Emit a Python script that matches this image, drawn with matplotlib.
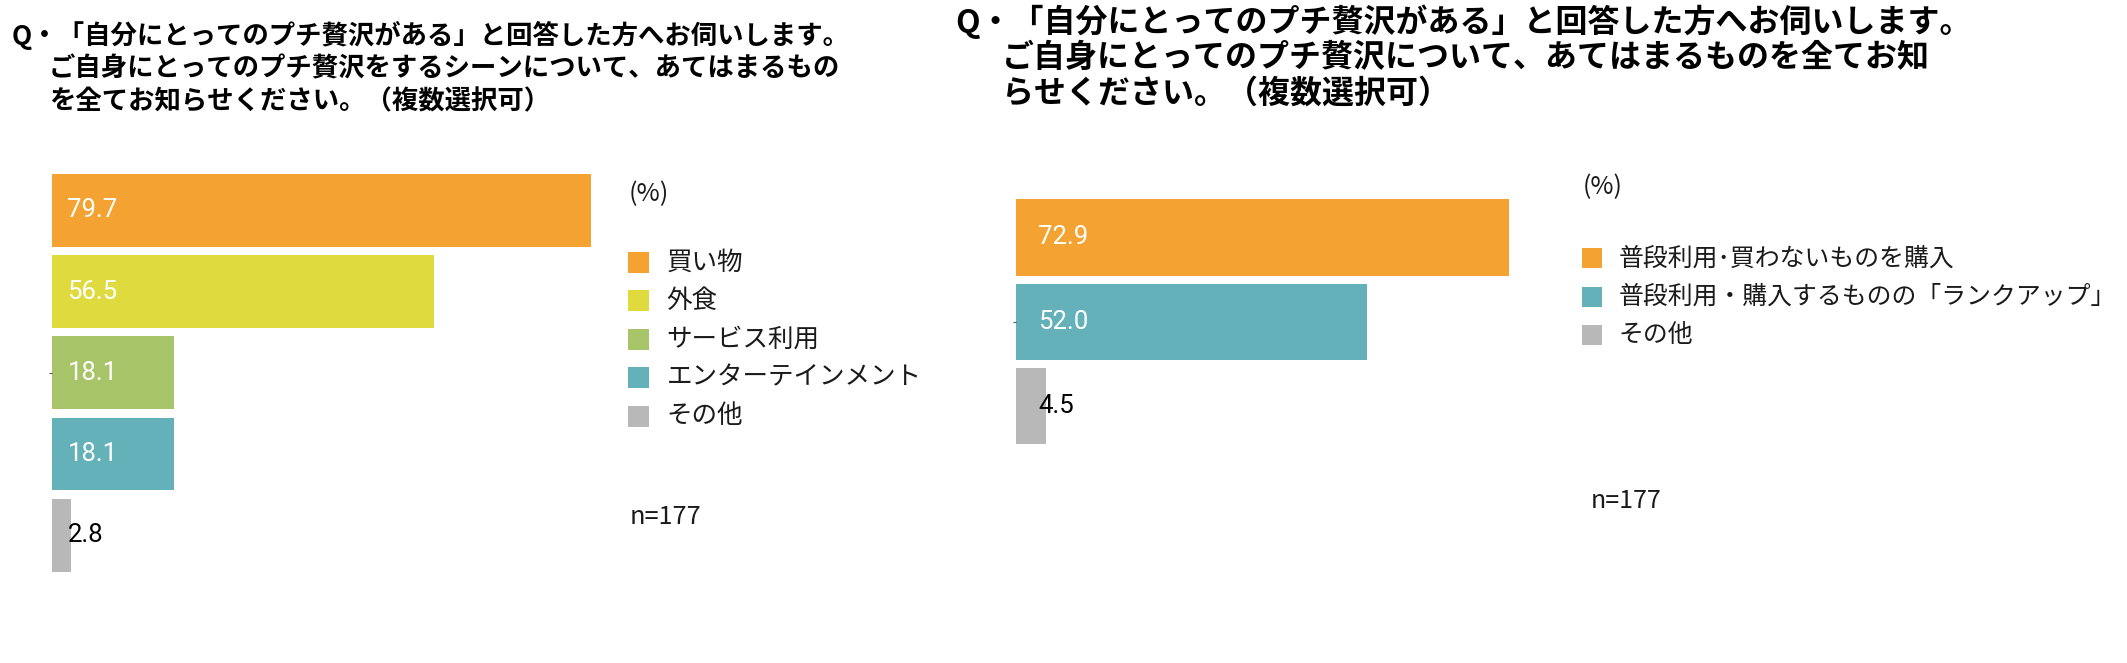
import matplotlib
matplotlib.use("Agg")
import matplotlib.pyplot as plt
from matplotlib.patches import Rectangle

# ---------------- data ----------------
left_categories = ['買い物', '外食', 'サービス利用', 'エンターテインメント', 'その他']
left_values = [79.7, 56.5, 18.1, 18.1, 2.8]
left_colors = ['#F4A232', '#DFDB3F', '#A8C468', '#64B1BA', '#B8B8B8']

right_categories = ['普段利用･買わないものを購入', '普段利用・購入するものの「ランクアップ」', 'その他']
right_values = [72.9, 52.0, 4.5]
right_colors = ['#F4A232', '#64B1BA', '#B8B8B8']

left_title = ['Q・「自分にとってのプチ贅沢がある」と回答した方へお伺いします。',
              'ご自身にとってのプチ贅沢をするシーンについて、あてはまるもの',
              'を全てお知らせください。（複数選択可）']
right_title = ['Q・「自分にとってのプチ贅沢がある」と回答した方へお伺いします。',
               'ご自身にとってのプチ贅沢について、あてはまるものを全てお知',
               'らせください。（複数選択可）']
unit_label = '(%)'
n_label = 'n=177'

# ---------------- layout ----------------
W, H = 2127, 663
DPI = 100
JP = ['Noto Sans CJK JP', 'DejaVu Sans']
NUM = ['Roboto', 'DejaVu Sans']
PX_PER_UNIT = 6.757

fig = plt.figure(figsize=(W / DPI, H / DPI), dpi=DPI)
fig.patch.set_facecolor('white')


def add_axes_px(x0, y0, x1, y1):
    return fig.add_axes([x0 / W, 1 - y1 / H, (x1 - x0) / W, (y1 - y0) / H])


def ftext(x, y, s, **kw):
    fig.text(x / W, 1 - y / H, s, **kw)


def draw_bars(ax, values, colors, height, label_dx_px):
    n = len(values)
    ypos = list(range(n))
    ax.barh(ypos, values, height=height, color=colors, edgecolor='none')
    ax.set_xlim(0, 80)
    ax.set_ylim(n - 0.5, -0.5)
    for s in ax.spines.values():
        s.set_visible(False)
    ax.set_xticks([])
    mid = (n - 1) / 2
    ax.set_yticks([mid])
    ax.set_yticklabels([''])
    ax.tick_params(axis='y', length=2, width=0.8, color='#555555')
    for i, (v, c) in enumerate(zip(values, colors)):
        tc = 'black' if c == '#B8B8B8' else 'white'
        ax.annotate(f'{v:.1f}', xy=(0, i), xytext=(label_dx_px * 72 / DPI, 0),
                    textcoords='offset points', ha='left', va='center',
                    fontsize=18.5, family=NUM, color=tc)


# left chart: bar pitch 81.25 px, first bar centre 210.3
lp = 81.25
ax1 = add_axes_px(52, 210.3 - lp / 2, 52 + 80 * PX_PER_UNIT, 210.3 + lp * 4.5)
draw_bars(ax1, left_values, left_colors, 0.895, 15.5)

# right chart: pitch 84.4, first bar centre 237.4
rp = 84.4
ax2 = add_axes_px(1016, 237.4 - rp / 2, 1016 + 80 * PX_PER_UNIT, 237.4 + rp * 2.5)
draw_bars(ax2, right_values, right_colors, 0.904, 22)

# titles
tkw = dict(family=JP, weight='bold', color='black', va='center', ha='left')
ftext(12, 35, left_title[0], fontsize=19, **tkw)
ftext(49, 68.5, left_title[1], fontsize=19, **tkw)
ftext(49, 102, left_title[2], fontsize=19, **tkw)
ftext(955, 22, right_title[0], fontsize=23, **tkw)
ftext(1002, 58, right_title[1], fontsize=23, **tkw)
ftext(1002, 94, right_title[2], fontsize=23, **tkw)


def legend(x_sq, y0, step, x_txt, cats, colors, size, fs):
    for i, (c, col) in enumerate(zip(cats, colors)):
        yc = y0 + step * i
        fig.add_artist(Rectangle((x_sq / W, 1 - (yc + size / 2) / H), size / W, size / H,
                                 transform=fig.transFigure, facecolor=col, edgecolor='none'))
        ftext(x_txt, yc, c, fontsize=fs, family=JP, color='#1a1a1a', va='center', ha='left')


lkw = dict(family=JP, color='#1a1a1a', va='center', ha='left')
ftext(629, 194, unit_label, fontsize=18.2, **lkw)
legend(628.3, 262.3, 38.5, 666.7, left_categories, left_colors, 20.7, 18.4)
ftext(629.3, 517, n_label, fontsize=18.2, **lkw)

ftext(1583, 186.7, unit_label, fontsize=18, **lkw)
legend(1581.7, 258.3, 38.3, 1618.3, right_categories, right_colors, 20, 17.9)
ftext(1591, 501, n_label, fontsize=18, **lkw)

fig.savefig('out.png', dpi=DPI, facecolor='white')
